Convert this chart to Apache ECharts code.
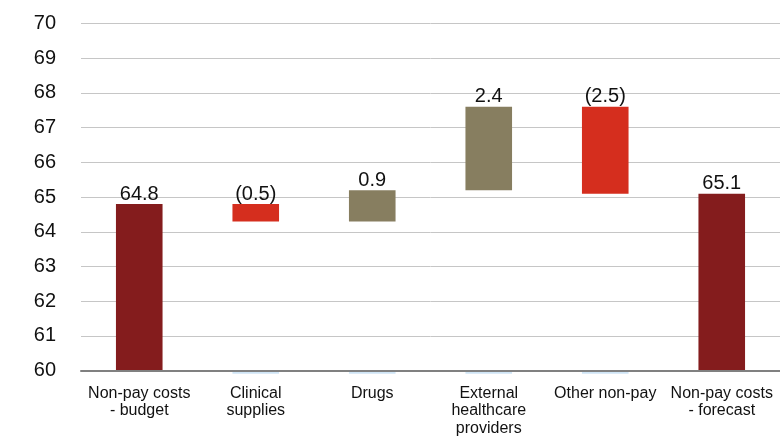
<!DOCTYPE html>
<html>
<head>
<meta charset="utf-8">
<script src="https://cdn.jsdelivr.net/npm/echarts@6/dist/echarts.min.js"></script>
<style>
  html, body { margin: 0; padding: 0; background: #fff; }
  #chart { width: 780px; height: 438px; }
</style>
</head>
<body>
<div id="chart"></div>
<script>
// Non-pay costs bridge: budget -> forecast (£m)
const categories = [
  'Non-pay costs\n- budget',
  'Clinical\nsupplies',
  'Drugs',
  'External\nhealthcare\nproviders',
  'Other non-pay',
  'Non-pay costs\n- forecast'
];
// Movement of each step (totals for the first and last bar)
const changes = [64.8, -0.5, 0.9, 2.4, -2.5, 65.1];
// Which bars are totals rather than movements
const isTotal = [true, false, false, false, false, true];
const valueLabels = ['64.8', '(0.5)', '0.9', '2.4', '(2.5)', '65.1'];
const yTicks = { min: 60, max: 70, interval: 1 };

const COL_TOTAL = '#841C1D';
const COL_DOWN = '#D52E1E';
const COL_UP = '#877E60';

// Build the invisible base and the visible step of each bar
const base = [];
const step = [];
let running = 0;
changes.forEach((c, i) => {
  if (isTotal[i]) {
    base.push(0);
    step.push({ value: c, itemStyle: { color: COL_TOTAL } });
    running = c;
  } else {
    const from = running;
    const to = +(running + c).toFixed(2);
    base.push(Math.min(from, to));
    step.push({ value: Math.abs(c), itemStyle: { color: c < 0 ? COL_DOWN : COL_UP } });
    running = to;
  }
});
const floatIdx = categories.map((_, i) => i).filter(i => !isTotal[i]);

const chart = echarts.init(document.getElementById('chart'), null, { renderer: 'canvas' });
chart.setOption({
  animation: false,
  textStyle: { fontFamily: '"Liberation Sans", Arial, sans-serif' },
  grid: { left: 81, right: -6, top: 23.5, bottom: 67.3, containLabel: false },
  xAxis: {
    type: 'category',
    data: categories,
    axisLine: { show: true, lineStyle: { color: '#808080', width: 2 } },
    axisTick: { show: false },
    axisLabel: {
      interval: 0,
      margin: 14,
      color: '#111',
      fontSize: 16,
      lineHeight: 17.5,
      fontFamily: '"Liberation Sans", Arial, sans-serif'
    },
    z: 5
  },
  yAxis: {
    type: 'value',
    min: yTicks.min,
    max: yTicks.max,
    interval: yTicks.interval,
    axisLine: { show: false },
    axisTick: { show: false },
    splitLine: { show: true, lineStyle: { color: '#C6C6C6', width: 1 } },
    axisLabel: {
      margin: 25,
      color: '#111',
      fontSize: 20,
      fontFamily: '"Liberation Sans", Arial, sans-serif'
    }
  },
  series: [
    {
      name: 'base',
      type: 'bar',
      stack: 'bridge',
      barWidth: '40%',
      itemStyle: { color: 'transparent' },
      emphasis: { disabled: true },
      data: base
    },
    {
      name: 'step',
      type: 'bar',
      stack: 'bridge',
      barWidth: '40%',
      data: step,
      label: {
        show: true,
        position: 'top',
        distance: 0,
        color: '#111',
        fontSize: 20,
        fontFamily: '"Liberation Sans", Arial, sans-serif',
        formatter: p => valueLabels[p.dataIndex]
      }
    },
    {
      // pale base stubs peeking below the axis under the floating bars
      name: 'stub',
      type: 'custom',
      clip: false,
      z: 1,
      data: floatIdx.map(i => [i, yTicks.min]),
      renderItem: (params, api) => {
        const p = api.coord([api.value(0), api.value(1)]);
        const w = api.size([1, 0])[0] * 0.4;
        return {
          type: 'rect',
          shape: { x: p[0] - w / 2, y: p[1] + 1, width: w, height: 2 },
          style: { fill: '#CFE5F6' }
        };
      }
    }
  ]
});
</script>
</body>
</html>
